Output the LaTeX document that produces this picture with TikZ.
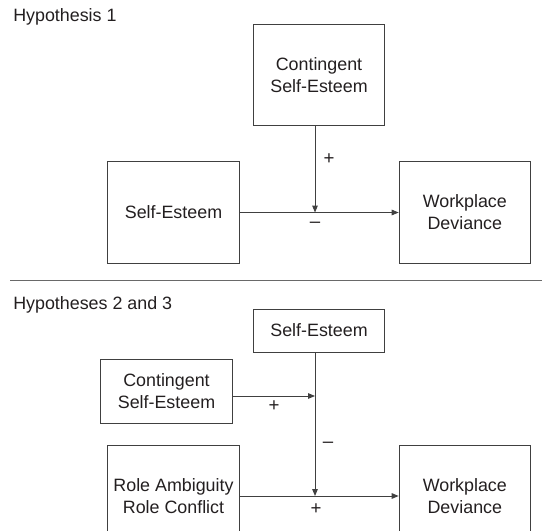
\documentclass[tikz,border=0pt]{standalone}
\usepackage{fontspec}
\setmainfont{Liberation Sans}
\usepackage{tikz}
\usetikzlibrary{arrows.meta,positioning}
\definecolor{hyline}{RGB}{64,64,64}
\definecolor{hytext}{RGB}{35,31,32}
\definecolor{hyrule}{RGB}{105,105,105}
\tikzset{
  hybox/.style={draw=hyline, line width=.75pt, align=center, text=hytext, minimum width=98.5pt, minimum height=75.75pt, inner sep=2pt},
  hyarr/.style={-{Triangle[length=5.25pt,width=4.2pt]}, line width=.75pt, draw=hyline},
  hysign/.style={text=hytext, inner sep=0pt, font=\fontsize{14}{16.5}\selectfont},
  hytitle/.style={text=hytext, anchor=west, inner sep=0pt}
}

\begin{document}
\begin{tikzpicture}[x=.75pt, y=-.75pt, font=\fontsize{13.4}{16.5}\selectfont]
  \useasboundingbox (0,0) rectangle (542,531);
  \clip (0,0) rectangle (542,531);
  % Hypothesis 1
  \node[hytitle] (h1) at (13,17) {Hypothesis 1};
  \node[hybox] (cse1) at (319,75.5) {Contingent\\Self-Esteem};
  \node[hybox] (se1) at (173.5,212.5) {Self-Esteem};
  \node[hybox, right=119.25pt of se1] (wd1) {Workplace\\Deviance};
  \coordinate (m1) at (315,212.5);
  \draw[hyarr] (se1) -- (wd1);
  \draw[hyarr] (cse1.south -| m1) -- (m1);
  \node[hysign] (p1) at (329,159) {+};
  \node[hysign] (n1) at (315,225) {–};
  \draw[hyrule, line width=.75pt] (10,280) -- (542,280);
  % Hypotheses 2 and 3
  \node[hytitle] (h2) at (13,305) {Hypotheses 2 and 3};
  \node[hybox, minimum height=32.25pt] (se2) at (319,330.5) {Self-Esteem};
  \node[hybox, minimum height=48pt] (cse2) at (166.5,391) {Contingent\\Self-Esteem};
  \node[hybox] (ra2) at (173.5,496) {Role Ambiguity\\Role Conflict};
  \node[hybox, right=119.25pt of ra2] (wd2) {Workplace\\Deviance};
  \coordinate (m2) at (315,496);
  \coordinate (m3) at (315,396);
  \draw[hyarr] (ra2) -- (wd2);
  \draw[hyarr] (se2.south -| m2) -- (m2);
  \draw[hyarr] (cse2.east |- m3) -- (m3);
  \node[hysign] (p2) at (274,406) {+};
  \node[hysign] (n2) at (328,445) {–};
  \node[hysign] (p3) at (316,509) {+};
\end{tikzpicture}
\end{document}
